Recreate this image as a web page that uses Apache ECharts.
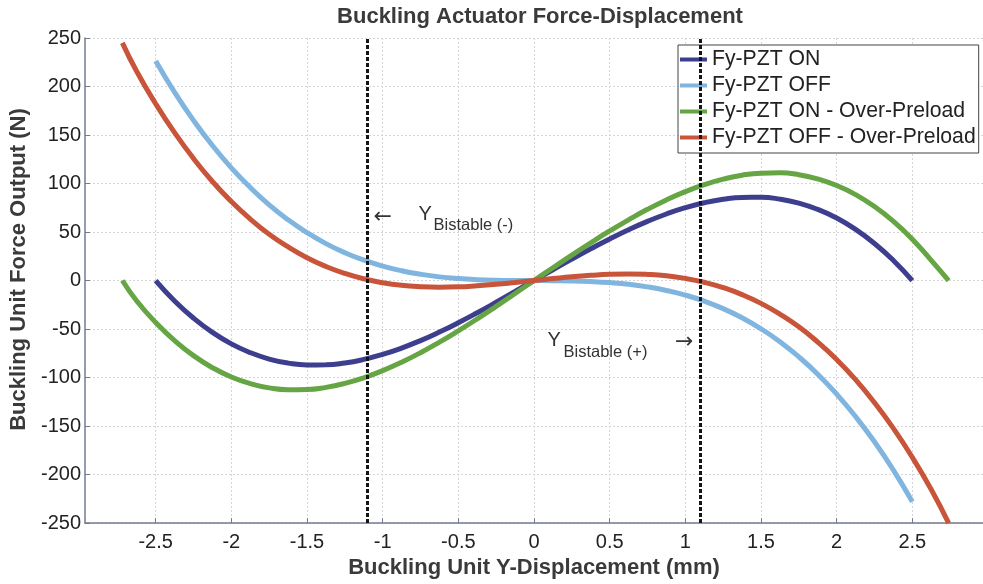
<!DOCTYPE html>
<html>
<head>
<meta charset="utf-8">
<script src="https://cdn.jsdelivr.net/npm/echarts@6/dist/echarts.min.js"></script>
<style>
  html, body { margin: 0; padding: 0; background: #fff; }
  #chart { width: 983px; height: 584px; }
</style>
</head>
<body>
<div id="chart"></div>
<script>
// Displacement samples (mm)
const xPzt = [-2.5, -2.375, -2.25, -2.125, -2, -1.875, -1.75, -1.625, -1.5, -1.375, -1.25, -1.125,
              -1, -0.875, -0.75, -0.625, -0.5, -0.375, -0.25, -0.125, 0,
              0.125, 0.25, 0.375, 0.5, 0.625, 0.75, 0.875, 1, 1.125, 1.25, 1.375,
              1.5, 1.625, 1.75, 1.875, 2, 2.125, 2.25, 2.375, 2.5];
const xOverPreload = [-2.72, -2.625, -2.5, -2.375, -2.25, -2.125, -2, -1.875, -1.75, -1.625, -1.5,
                      -1.375, -1.25, -1.125, -1, -0.875, -0.75, -0.625, -0.5, -0.375, -0.25, -0.125, 0,
                      0.125, 0.25, 0.375, 0.5, 0.625, 0.75, 0.875, 1, 1.125, 1.25, 1.375, 1.5,
                      1.625, 1.75, 1.875, 2, 2.125, 2.25, 2.375, 2.5, 2.625, 2.74];

// Force output (N)
const fyPztOn = [0, -21, -38.7, -53.4, -65.3, -74.3, -80.9, -85.1, -87, -86.9, -85, -81.3,
                 -76.1, -69.6, -61.9, -53.1, -43.5, -33.2, -22.4, -11.3, 0,
                 11.1, 22.1, 32.7, 42.9, 52.4, 61, 68.6, 75.1, 80.2, 83.8, 85.7,
                 85.8, 83.9, 79.8, 73.3, 64.4, 52.7, 38.2, 20.7, 0];
const fyPztOff = [226.3, 194.1, 165.1, 139.2, 116.2, 95.9, 78, 62.6, 49.4, 38.1, 28.7, 21.1,
                  14.9, 10.1, 6.5, 3.8, 2.05, 0.95, 0.35, 0.09, 0,
                  -0.1, -0.35, -1, -2.1, -3.8, -6.5, -10.2, -15, -21.2, -28.9, -38.4,
                  -49.7, -63, -78.6, -96.5, -117, -140.2, -166.2, -195.4, -228];
const fyPztOnOver = [0, -21.1, -43.2, -61.9, -77.4, -89.8, -99.4, -106.2, -110.6, -112.5, -112.3,
                     -110.1, -106, -100.2, -92.9, -84.2, -74.4, -63.5, -51.8, -39.5, -26.6, -13.4, 0,
                     13.2, 26.2, 38.9, 51.1, 62.6, 73.4, 83.1, 91.6, 98.8, 104.5, 108.6, 110.7,
                     111, 109.1, 104.7, 98, 88.6, 76.3, 61, 42.6, 20.8, 0];
const fyPztOffOver = [245, 215.4, 182.2, 152.4, 125.8, 102.1, 81.4, 63.4, 47.7, 34.6, 23.5,
                      14.5, 7.3, 1.8, -2.2, -4.9, -6.3, -6.8, -6.5, -5.4, -3.9, -2, 0,
                      2, 3.9, 5.4, 6.5, 6.8, 6.3, 4.9, 2.2, -1.8, -7.3, -14.5, -23.5,
                      -34.6, -47.7, -63.4, -81.4, -102.1, -125.8, -152.4, -182.2, -215.4, -250];

// Bistable positions (mm)
const bistableX = [-1.1, 1.1];

// Tick labels
const xTicks = [-2.5, -2, -1.5, -1, -0.5, 0, 0.5, 1, 1.5, 2, 2.5];
const yTicks = [-250, -200, -150, -100, -50, 0, 50, 100, 150, 200, 250];

const seriesNames = ['Fy-PZT ON', 'Fy-PZT OFF', 'Fy-PZT ON - Over-Preload', 'Fy-PZT OFF - Over-Preload'];
const seriesColors = ['#3d3f8e', '#80b5e0', '#66a543', '#c8553a'];

const FONT = '"Liberation Sans", Arial, Helvetica, sans-serif';
const ARROW_FONT = '"DejaVu Sans", sans-serif';
const AXIS_COLOR = '#727b8e';

const pairs = (xs, ys) => xs.map((x, i) => [x, ys[i]]);

const chart = echarts.init(document.getElementById('chart'), null, { renderer: 'canvas' });

function curve(idx, xs, ys, extra) {
  return Object.assign({
    name: seriesNames[idx],
    type: 'line',
    data: pairs(xs, ys),
    smooth: true,
    showSymbol: false,
    symbol: 'none',
    animation: false,
    lineStyle: { width: 5, color: seriesColors[idx] },
    itemStyle: { color: seriesColors[idx] }
  }, extra || {});
}

const option = {
  backgroundColor: '#ffffff',
  animation: false,
  textStyle: { fontFamily: FONT },
  title: {
    text: 'Buckling Actuator Force-Displacement',
    left: 535,
    textAlign: 'center',
    top: 1,
    textStyle: { fontFamily: FONT, fontSize: 22, fontWeight: 'bold', color: '#3a3a3a' }
  },
  grid: { left: 85, right: 0, top: 38, bottom: 60, containLabel: false },
  legend: {
    orient: 'vertical',
    left: 678,
    top: 45,
    data: seriesNames,
    icon: 'rect',
    itemWidth: 27,
    itemHeight: 4,
    itemGap: 5,
    backgroundColor: '#ffffff',
    borderColor: '#444',
    borderWidth: 1,
    borderRadius: 0,
    padding: [4, 3, 5, 2],
    textStyle: { fontFamily: FONT, fontSize: 21.2, color: '#222', lineHeight: 20 }
  },
  xAxis: {
    type: 'value',
    min: -2.967,
    max: 2.967,
    name: 'Buckling Unit Y-Displacement (mm)',
    nameLocation: 'middle',
    nameGap: 27,
    nameTextStyle: { fontFamily: FONT, fontSize: 22, fontWeight: 'bold', color: '#3a3a3a' },
    axisLine: { show: true, onZero: false, lineStyle: { color: AXIS_COLOR, width: 1.5 } },
    axisTick: { show: true, inside: true, length: 5, customValues: xTicks, lineStyle: { color: AXIS_COLOR } },
    axisLabel: { customValues: xTicks, fontFamily: FONT, fontSize: 20, color: '#222', margin: 9 },
    splitLine: { show: true, lineStyle: { color: '#d6d6d6', type: [2, 2], width: 1 } }
  },
  yAxis: {
    type: 'value',
    min: yTicks[0],
    max: yTicks[yTicks.length - 1],
    interval: 50,
    name: 'Buckling Unit Force Output (N)',
    nameLocation: 'middle',
    nameGap: 47,
    nameTextStyle: { fontFamily: FONT, fontSize: 22, fontWeight: 'bold', color: '#3a3a3a', padding: [0, 0, 0, 22] },
    axisLine: { show: true, onZero: false, lineStyle: { color: AXIS_COLOR, width: 1.5 } },
    axisTick: { show: true, inside: true, length: 5, lineStyle: { color: AXIS_COLOR } },
    axisLabel: { fontFamily: FONT, fontSize: 20, color: '#222', margin: 4 },
    splitLine: { show: true, lineStyle: { color: '#d6d6d6', type: [2, 2], width: 1 } }
  },
  series: [
    curve(0, xPzt, fyPztOn),
    curve(1, xPzt, fyPztOff),
    curve(2, xOverPreload, fyPztOnOver),
    curve(3, xOverPreload, fyPztOffOver, {
      markLine: {
        silent: true,
        symbol: 'none',
        animation: false,
        z: 10,
        label: { show: false },
        lineStyle: { color: '#151515', type: [4, 2], width: 3 },
        data: bistableX.map(v => ({ xAxis: v }))
      }
    })
  ]
};

chart.setOption(option);

// Y_Bistable annotations next to the dashed lines
function bistableNotes() {
  const left = chart.convertToPixel({ gridIndex: 0 }, [bistableX[0], 68]);
  const right = chart.convertToPixel({ gridIndex: 0 }, [bistableX[1], -62]);
  const main = { fontFamily: FONT, fontSize: 20, fill: '#333' };
  const sub = { fontFamily: FONT, fontSize: 16.5, fill: '#333' };
  const arrow = { fontFamily: ARROW_FONT, fontSize: 22, fill: '#333' };
  const t = (x, y, text, st, align) => ({
    type: 'text', x: x, y: y, z: 20, silent: true,
    style: Object.assign({ text: text, align: align || 'left', verticalAlign: 'middle' }, st)
  });
  return [
    t(left[0] + 6, left[1] + 3, '\u2190', arrow),
    t(left[0] + 51, left[1], 'Y', main),
    t(left[0] + 66, left[1] + 11, 'Bistable (-)', sub),
    t(right[0] - 153, right[1], 'Y', main),
    t(right[0] - 137, right[1] + 12, 'Bistable (+)', sub),
    t(right[0] - 7, right[1] + 2, '\u2192', arrow, 'right')
  ];
}

chart.setOption({ graphic: bistableNotes() });
</script>
</body>
</html>
